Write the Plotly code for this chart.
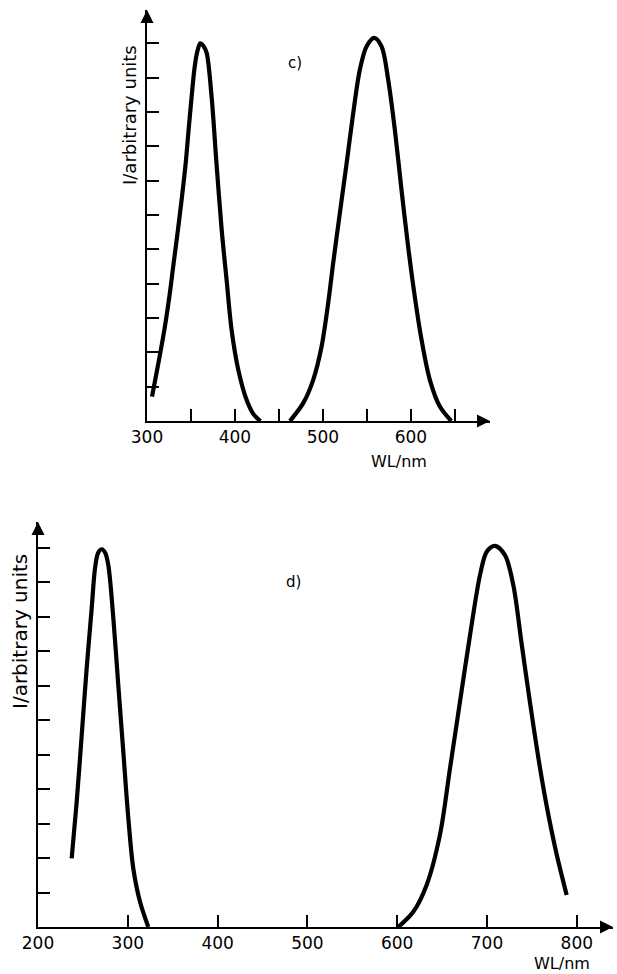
import plotly.graph_objects as go

# ---- data (intensity in tick units, 11 ticks = peak) ----
c_band1_wl = [305.7, 312.9, 319.7, 325.4, 330.3, 335.2, 339.8, 344.0, 347.3, 350.8,
              353.8, 356.8, 360.6, 364.0, 367.8, 373.4, 379.0, 384.9, 390.5, 396.2,
              403.8, 413.3, 421.0, 429.0]
c_band1_i = [0.71, 1.68, 2.65, 3.62, 4.60, 5.57, 6.54, 7.51, 8.48, 9.46,
             10.23, 10.72, 11.0, 10.93, 10.72, 9.46, 7.51, 5.57, 4.11, 2.65,
             1.49, 0.61, 0.2, 0.0]
c_band2_wl = [462.5, 477.6, 489, 498.5, 506, 511.7, 519.3, 527, 534.5, 542, 549.6,
              558.3, 566.7, 574.2, 581.8, 589.4, 596.9, 604.5, 612.2, 621.6, 633, 646]
c_band2_i = [0.0, 0.52, 1.2, 2.17, 3.43, 4.6, 6.06, 7.51, 8.97, 10.23, 10.91,
             11.16, 10.91, 9.94, 8.48, 6.73, 5.08, 3.62, 2.36, 1.2, 0.42, 0.0]

d_band1_wl = [237.5, 243.1, 248.7, 254.2, 259.8, 263.5, 267.0, 270.9, 274.8, 278.3,
              283.9, 289.4, 295, 300.6, 306.1, 313.6, 322.8]
d_band1_i = [1.99, 3.63, 5.57, 7.5, 9.24, 10.4, 10.85, 10.95, 10.85, 10.49,
             8.95, 7.01, 5.08, 3.15, 1.7, 0.73, 0.0]
d_band2_wl = [601.2, 617.9, 632.8, 647.6, 658.8, 669.9, 681.1, 692.2, 699.7, 708.9,
              720, 729.3, 738.6, 747.9, 757.2, 766.5, 777.6, 788.7]
d_band2_i = [0.0, 0.44, 1.22, 2.67, 4.6, 6.53, 8.46, 10.2, 10.88, 11.05,
             10.78, 9.91, 8.2, 6.5, 4.9, 3.5, 2.1, 0.93]

c_xticks = [300, 350, 400, 450, 500, 550, 600, 650]
c_xtext = ["300", "", "400", "", "500", "", "600", ""]
d_xticks = [200, 300, 400, 500, 600, 700, 800]
d_xtext = ["200", "300", "400", "500", "600", "700", "800"]
y_ticks = list(range(1, 12))

FONT = "DejaVu Sans"
W, H = 617, 974

fig = go.Figure()
line = dict(color="black", width=4.2, shape="spline", smoothing=0.9)
for wl, it in [(c_band1_wl, c_band1_i), (c_band2_wl, c_band2_i)]:
    fig.add_trace(go.Scatter(x=wl, y=it, mode="lines", line=line,
                             xaxis="x", yaxis="y", showlegend=False, hoverinfo="skip"))
for wl, it in [(d_band1_wl, d_band1_i), (d_band2_wl, d_band2_i)]:
    fig.add_trace(go.Scatter(x=wl, y=it, mode="lines", line=line,
                             xaxis="x2", yaxis="y2", showlegend=False, hoverinfo="skip"))

axis_common = dict(showline=True, linecolor="black", linewidth=2, showgrid=False,
                   zeroline=False, ticks="inside", ticklen=12, tickwidth=1.6,
                   tickcolor="black", tickfont=dict(family=FONT, size=17, color="black"),
                   fixedrange=True, automargin=False)

fig.update_layout(
    width=W, height=H,
    margin=dict(l=0, r=0, t=0, b=0),
    paper_bgcolor="white", plot_bgcolor="white",
    template="none",
    xaxis=dict(axis_common, domain=[147 / W, 490 / W], range=[300, 690],
               tickvals=c_xticks, ticktext=c_xtext, anchor="y"),
    yaxis=dict(axis_common, domain=[1 - 421 / H, 1 - 10 / H], range=[0, 11.97],
               tickvals=y_ticks, showticklabels=False, anchor="x"),
    xaxis2=dict(axis_common, domain=[38 / W, 613 / W], range=[200, 840.3],
                tickvals=d_xticks, ticktext=d_xtext, anchor="y2"),
    yaxis2=dict(axis_common, domain=[1 - 927 / H, 1 - 522 / H], range=[0, 11.74],
                tickvals=y_ticks, showticklabels=False, anchor="x2"),
)

ann = []
# axis arrowheads
for xr, yr in [("x", "y"), ("x2", "y2")]:
    ann.append(dict(xref=f"{xr} domain", yref=f"{yr} domain", x=1, y=0, ax=-14, ay=0,
                    text="", showarrow=True, arrowhead=2, arrowsize=1.3, arrowwidth=2,
                    arrowcolor="black", standoff=0))
    ann.append(dict(xref=f"{xr} domain", yref=f"{yr} domain", x=0, y=1, ax=0, ay=14,
                    text="", showarrow=True, arrowhead=2, arrowsize=1.3, arrowwidth=2,
                    arrowcolor="black", standoff=0))

txt = dict(family=FONT, color="black")
labels = [
    (295, 63, "c)", 15, 0),
    (293, 582, "d)", 15, 0),
    (399, 461, "WL/nm", 16, 0),
    (562, 963, "WL/nm", 16, 0),
    (129, 115, "I/arbitrary units", 18, -90),
    (20, 632, "I/arbitrary units", 20, -90),
]
for px, py, t, fs, ang in labels:
    ann.append(dict(xref="paper", yref="paper", x=px / W, y=1 - py / H, text=t,
                    showarrow=False, xanchor="center", yanchor="middle",
                    textangle=ang, font=dict(txt, size=fs)))
fig.update_layout(annotations=ann)

fig.write_html("out.html", config={"displayModeBar": False},
               post_script="document.body.style.margin='0px';")
